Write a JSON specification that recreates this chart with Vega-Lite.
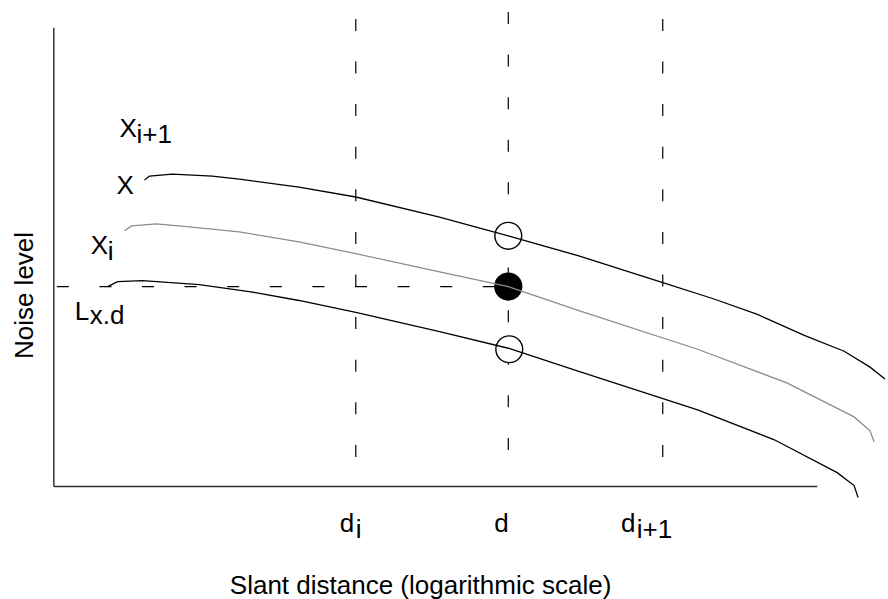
{
  "$schema": "https://vega.github.io/schema/vega-lite/v6.json",
  "width": 888,
  "height": 599,
  "autosize": {"type": "fit", "contains": "padding"},
  "padding": 0,
  "background": "white",
  "config": {"view": {"stroke": null}},
  "datasets": {
    "frame": [
      {"x": 54, "y": 571, "x2": 54, "y2": 110},
      {"x": 54, "y": 110, "x2": 820, "y2": 110}
    ],
    "guides": [
      {"x": 357, "y": 580, "x2": 357, "y2": 139},
      {"x": 510, "y": 587, "x2": 510, "y2": 117},
      {"x": 665, "y": 580, "x2": 665, "y2": 139},
      {"x": 57, "y": 311, "x2": 510, "y2": 311}
    ],
    "curves": [
      {"series": "X", "x": 145, "y": 418},
      {"series": "X", "x": 150, "y": 422},
      {"series": "X", "x": 173, "y": 424},
      {"series": "X", "x": 213, "y": 422},
      {"series": "X", "x": 240, "y": 419},
      {"series": "X", "x": 300, "y": 411},
      {"series": "X", "x": 357, "y": 401},
      {"series": "X", "x": 440, "y": 381},
      {"series": "X", "x": 510, "y": 362},
      {"series": "X", "x": 580, "y": 342},
      {"series": "X", "x": 665, "y": 315},
      {"series": "X", "x": 715, "y": 299},
      {"series": "X", "x": 760, "y": 283},
      {"series": "X", "x": 807, "y": 262},
      {"series": "X", "x": 847, "y": 246},
      {"series": "X", "x": 873, "y": 230},
      {"series": "X", "x": 888, "y": 218},
      {"series": "Xi", "x": 125, "y": 367},
      {"series": "Xi", "x": 132, "y": 372},
      {"series": "Xi", "x": 157, "y": 374},
      {"series": "Xi", "x": 190, "y": 371},
      {"series": "Xi", "x": 240, "y": 366},
      {"series": "Xi", "x": 300, "y": 356},
      {"series": "Xi", "x": 357, "y": 344},
      {"series": "Xi", "x": 440, "y": 326},
      {"series": "Xi", "x": 510, "y": 311},
      {"series": "Xi", "x": 580, "y": 287},
      {"series": "Xi", "x": 700, "y": 248},
      {"series": "Xi", "x": 790, "y": 214},
      {"series": "Xi", "x": 857, "y": 180},
      {"series": "Xi", "x": 873, "y": 166},
      {"series": "Xi", "x": 877, "y": 155},
      {"series": "Lower", "x": 108, "y": 311},
      {"series": "Lower", "x": 118, "y": 316},
      {"series": "Lower", "x": 143, "y": 317},
      {"series": "Lower", "x": 200, "y": 313},
      {"series": "Lower", "x": 250, "y": 306},
      {"series": "Lower", "x": 300, "y": 297},
      {"series": "Lower", "x": 357, "y": 285},
      {"series": "Lower", "x": 440, "y": 266},
      {"series": "Lower", "x": 510, "y": 249},
      {"series": "Lower", "x": 580, "y": 226},
      {"series": "Lower", "x": 700, "y": 187},
      {"series": "Lower", "x": 777, "y": 157},
      {"series": "Lower", "x": 840, "y": 124},
      {"series": "Lower", "x": 857, "y": 111},
      {"series": "Lower", "x": 861, "y": 99}
    ],
    "points": [
      {"kind": "open", "x": 510, "y": 362},
      {"kind": "filled", "x": 510, "y": 311},
      {"kind": "open", "x": 511, "y": 248}
    ],
    "labels": [
      {"x": 120, "y": 461, "t": "X"},
      {"x": 137, "y": 455, "t": "i+1"},
      {"x": 117, "y": 404, "t": "X"},
      {"x": 91, "y": 344, "t": "X"},
      {"x": 108, "y": 338, "t": "i"},
      {"x": 75, "y": 277, "t": "L"},
      {"x": 90, "y": 273, "t": "x.d"},
      {"x": 341, "y": 64, "t": "d"},
      {"x": 357, "y": 58, "t": "i"},
      {"x": 496, "y": 64, "t": "d"},
      {"x": 623, "y": 64, "t": "d"},
      {"x": 639, "y": 58, "t": "i+1"}
    ],
    "titles": [
      {"x": 33, "y": 302, "t": "Noise level", "angle": 270},
      {"x": 422, "y": 2, "t": "Slant distance (logarithmic scale)", "angle": 0}
    ]
  },
  "layer": [
    {
      "data": {"name": "frame"},
      "mark": {"type": "rule", "stroke": "#333333", "strokeWidth": 1.5},
      "encoding": {
        "x": {"field": "x", "type": "quantitative", "scale": {"domain": [0, 888], "nice": false, "zero": false}, "axis": null},
        "y": {"field": "y", "type": "quantitative", "scale": {"domain": [0, 599], "nice": false, "zero": false}, "axis": null},
        "x2": {"field": "x2"},
        "y2": {"field": "y2"}
      }
    },
    {
      "data": {"name": "guides"},
      "mark": {"type": "rule", "stroke": "#000000", "strokeWidth": 1.2, "strokeDash": [12, 30.6]},
      "encoding": {
        "x": {"field": "x", "type": "quantitative"},
        "y": {"field": "y", "type": "quantitative"},
        "x2": {"field": "x2"},
        "y2": {"field": "y2"}
      }
    },
    {
      "data": {"name": "points"},
      "mark": {"type": "point", "shape": "circle", "size": 720, "strokeWidth": 1.4, "stroke": "#000000", "opacity": 1},
      "encoding": {
        "x": {"field": "x", "type": "quantitative"},
        "y": {"field": "y", "type": "quantitative"},
        "fill": {"field": "kind", "type": "nominal", "scale": {"domain": ["open", "filled"], "range": ["#ffffff", "#000000"]}, "legend": null}
      }
    },
    {
      "data": {"name": "curves"},
      "mark": {"type": "line", "strokeWidth": 1.3},
      "encoding": {
        "x": {"field": "x", "type": "quantitative"},
        "y": {"field": "y", "type": "quantitative"},
        "detail": {"field": "series"},
        "stroke": {"field": "series", "type": "nominal", "scale": {"domain": ["X", "Xi", "Lower"], "range": ["#000000", "#8c8c8c", "#000000"]}, "legend": null}
      }
    },
    {
      "data": {"name": "labels"},
      "mark": {"type": "text", "align": "left", "baseline": "alphabetic", "font": "Liberation Sans", "fontSize": 26, "fill": "#000000"},
      "encoding": {
        "x": {"field": "x", "type": "quantitative"},
        "y": {"field": "y", "type": "quantitative"},
        "text": {"field": "t"}
      }
    },
    {
      "data": {"name": "titles"},
      "mark": {"type": "text", "align": "center", "baseline": "alphabetic", "font": "Liberation Sans", "fontSize": 26, "fill": "#000000"},
      "encoding": {
        "x": {"field": "x", "type": "quantitative"},
        "y": {"field": "y", "type": "quantitative"},
        "text": {"field": "t"},
        "angle": {"field": "angle", "type": "quantitative", "scale": null}
      }
    }
  ]
}
